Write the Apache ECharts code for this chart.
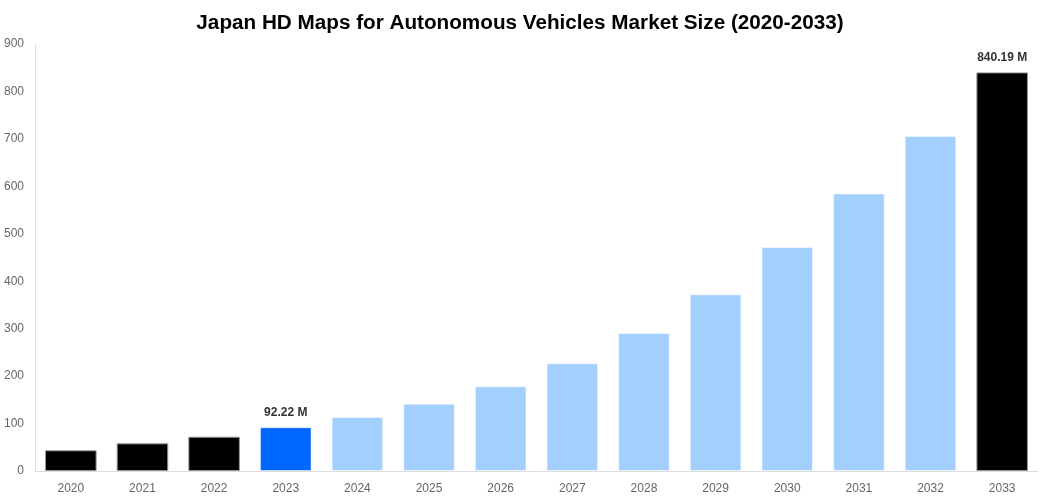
<!DOCTYPE html>
<html>
<head>
<meta charset="utf-8">
<script src="https://cdn.jsdelivr.net/npm/echarts@6/dist/echarts.min.js"></script>
<style>
  html, body { margin: 0; padding: 0; background: #fff; }
  #chart { width: 1040px; height: 500px; }
</style>
</head>
<body>
<div id="chart"></div>
<script>
const years = ['2020', '2021', '2022', '2023', '2024', '2025', '2026',
  '2027', '2028', '2029', '2030', '2031', '2032', '2033'];
const marketSize = [43.6, 58.3, 72.3, 92.22, 113.8, 141.8, 178.5,
  227.0, 290.8, 372.4, 472.0, 585.0, 706.0, 840.19];
// which bars get a value label on top
const labelled = ['2023', '2033'];

const yTicks = { min: 0, max: 900, interval: 100 };

// past years black, base year blue, forecast light blue, final year black
function barColor(i) {
  const y = +years[i];
  if (y === 2023) return '#0066ff';
  if (y < 2023 || y === 2033) return '#000000';
  return '#a3cfff';
}

const chart = echarts.init(document.getElementById('chart'), null, { renderer: 'canvas' });

chart.setOption({
  animation: false,
  title: {
    text: 'Japan HD Maps for Autonomous Vehicles Market Size (2020-2033)',
    left: 'center',
    top: 8,
    textStyle: {
      fontFamily: 'Liberation Sans, Arial, sans-serif',
      fontSize: 20.7,
      fontWeight: 'bold',
      color: '#000'
    }
  },
  grid: { left: 35, right: 2, top: 44, bottom: 29 },
  xAxis: {
    type: 'category',
    data: years,
    axisLine: { lineStyle: { color: '#dddddd' } },
    axisTick: { show: false },
    axisLabel: {
      color: '#666',
      fontSize: 12,
      margin: 12,
      fontFamily: 'Liberation Sans, Arial, sans-serif'
    }
  },
  yAxis: {
    type: 'value',
    min: yTicks.min,
    max: yTicks.max,
    interval: yTicks.interval,
    axisLine: { show: true, lineStyle: { color: '#dddddd' } },
    axisTick: { show: false },
    splitLine: { show: false },
    axisLabel: {
      color: '#666',
      fontSize: 12,
      margin: 11,
      fontFamily: 'Liberation Sans, Arial, sans-serif'
    }
  },
  series: [{
    type: 'bar',
    barWidth: '72%',
    data: marketSize.map((v, i) => ({
      value: v,
      itemStyle: {
        color: barColor(i),
        borderColor: barColor(i) === '#000000' ? '#999' : 'rgba(255,255,255,0.5)',
        borderWidth: 1
      },
      label: {
        show: labelled.includes(years[i]),
        position: 'top',
        distance: 9,
        formatter: p => p.value.toFixed(2) + ' M',
        color: '#333',
        fontSize: 12,
        fontWeight: 'bold',
        fontFamily: 'Liberation Sans, Arial, sans-serif'
      }
    }))
  }]
});
</script>
</body>
</html>
